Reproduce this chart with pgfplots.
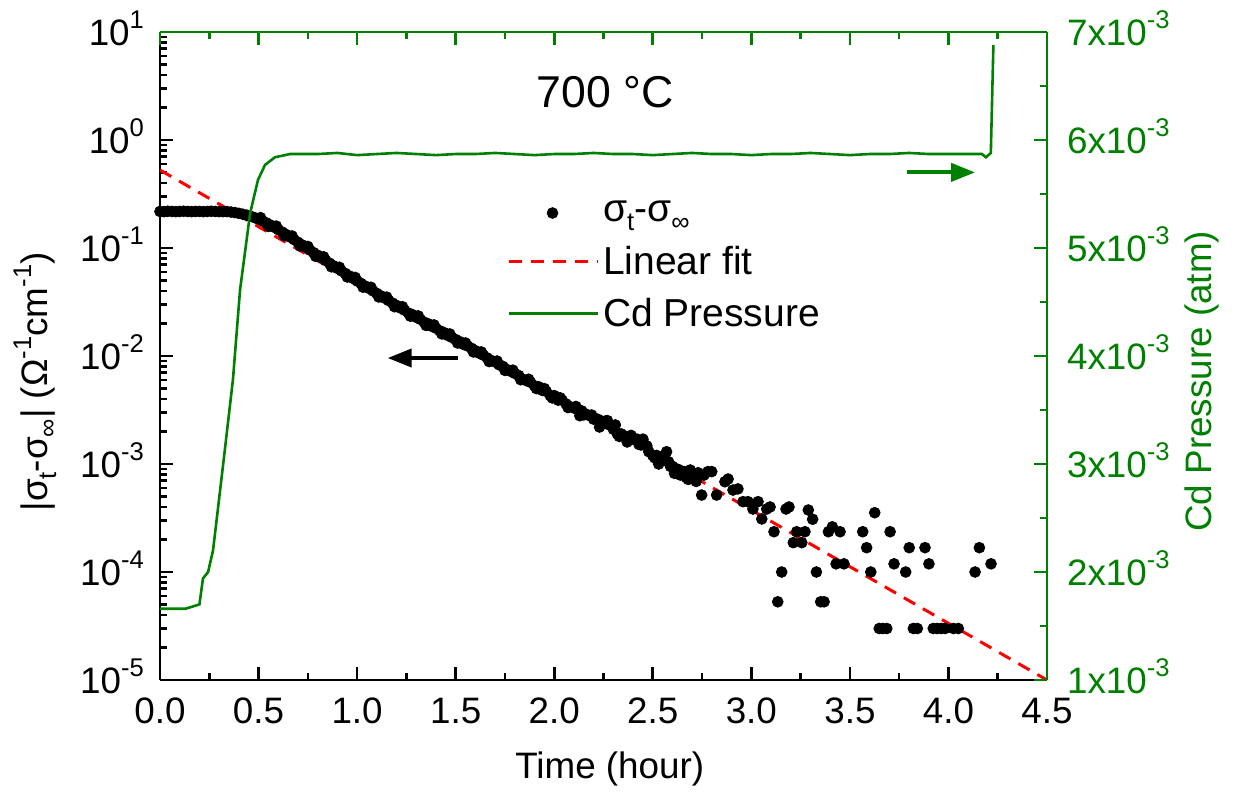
\documentclass[border=0pt]{standalone}
\usepackage{fontspec}
\setmainfont{Liberation Sans}
\usepackage{pgfplots}
\pgfplotsset{compat=1.18}
\usepackage{pgfplotstable}
\usetikzlibrary{arrows.meta}
\definecolor{cdgreen}{RGB}{0,128,0}
\newcommand\tfs{\fontsize{18.4}{22}\selectfont}
\newcommand\sps[1]{\raisebox{8.2pt}{\fontsize{12.8}{13}\selectfont #1}}
\newcommand\sbs[1]{\raisebox{-4.2pt}{\fontsize{12.8}{13}\selectfont #1}}
\pgfplotsset{
  linelegend/.style={legend image code/.code={\draw[##1] plot coordinates {(0pt,0pt) (44.5pt,0pt)};}},
  dotlegend/.style={legend image code/.code={\draw[##1] plot coordinates {(22pt,0pt)};}},
}

\pgfplotstableread{
t v
0.00 0.218
0.02 0.217
0.04 0.219
0.06 0.218
0.08 0.217
0.10 0.218
0.12 0.219
0.14 0.218
0.16 0.217
0.18 0.218
0.20 0.218
0.22 0.217
0.24 0.218
0.26 0.219
0.28 0.218
0.30 0.217
0.32 0.217
0.34 0.2173
0.36 0.2153
0.38 0.2128
0.40 0.2094
0.42 0.2056
0.44 0.2014
0.46 0.1968
0.48 0.1911
0.50 0.1852
0.52 0.1781
0.54 0.1708
0.56 0.1632
0.58 0.1555
0.60 0.1482
0.62 0.1405
0.64 0.1333
0.66 0.1264
0.68 0.1196
0.70 0.1131
0.72 0.1071
0.74 0.1013
0.76 0.0957
0.78 0.0905
0.80 0.0857
0.82 0.0810
0.84 0.0767
0.86 0.0724
0.88 0.0685
0.90 0.0648
0.92 0.0614
0.94 0.0582
0.96 0.0552
0.98 0.0522
1.00 0.0495
1.02 0.0470
1.04 0.0445
1.06 0.0423
1.08 0.0401
1.10 0.0380
1.12 0.0361
1.14 0.0343
1.16 0.0326
1.18 0.0309
1.20 0.0294
1.22 0.0278
1.24 0.0266
1.26 0.0250
1.28 0.0242
1.30 0.0228
1.32 0.0219
1.34 0.0206
1.36 0.0199
1.38 0.0188
1.40 0.0181
1.42 0.0171
1.44 0.0165
1.46 0.0155
1.48 0.0149
1.50 0.0142
1.52 0.0136
1.54 0.0128
1.56 0.0124
1.58 0.0118
1.60 0.0112
1.62 0.0106
1.64 0.0102
1.66 0.0096
1.68 0.0091
1.70 0.0088
1.72 0.0083
1.74 0.0080
1.76 0.0075
1.78 0.0072
1.80 0.0069
1.82 0.0066
1.84 0.0061
1.86 0.0059
1.88 0.0057
1.90 0.0053
1.92 0.0052
1.94 0.0048
1.96 0.0047
1.98 0.0043
2.00 0.0043
2.02 0.0039
2.04 0.0039
2.06 0.0036
2.08 0.0034
2.10 0.0033
2.12 0.0032
2.14 0.0031
2.16 0.0029
2.18 0.0028
2.20 0.0026
2.22 0.0026
2.24 0.0025
2.26 0.0025
2.28 0.0023
2.30 0.0021
2.32 0.0019
2.34 0.0019
2.36 0.0018
2.38 0.0018
2.40 0.0017
2.42 0.0017
2.44 0.0015
2.46 0.0015
2.48 0.0013
2.50 0.0012
2.52 0.0012
2.54 0.0011
2.56 0.0011
2.58 0.00105
2.60 0.00095
2.62 0.00090
2.64 0.00079
2.66 0.00085
2.68 0.00072
2.70 0.00079
2.72 0.00069
0.51 0.191
0.55 0.1587
0.59 0.1594
0.63 0.1301
0.67 0.1292
0.71 0.1046
0.75 0.1034
0.79 0.0837
0.83 0.0828
0.87 0.0669
0.91 0.0663
0.95 0.0539
0.99 0.0534
1.03 0.0434
1.07 0.0433
1.11 0.0352
1.15 0.0351
1.19 0.0286
1.23 0.0286
1.27 0.0234
1.31 0.0235
1.35 0.0192
1.39 0.0194
1.43 0.0160
1.47 0.0160
1.51 0.0132
1.55 0.0132
1.59 0.0109
1.63 0.0109
1.67 0.00888
1.71 0.00898
1.75 0.00736
1.79 0.0074
1.83 0.00603
1.87 0.00609
1.91 0.00499
1.95 0.00499
1.99 0.00409
2.03 0.0041
2.07 0.00333
2.11 0.00341
2.15 0.00285
2.19 0.00284
2.25 0.00238
2.27 0.00252
2.33 0.0018
2.39 0.00184
2.43 0.00152
2.47 0.00147
2.51 0.00114
2.55 0.00116
2.59 0.00095
2.63 0.00089
2.67 0.00075
2.71 0.00078
2.13 0.0028
2.23 0.0022
2.31 0.0023
2.37 0.0016
2.45 0.0017
2.53 0.0010
2.57 0.0013
2.61 0.00082
2.69 0.00088
2.73 0.00083
2.76 0.00079
2.78 0.00085
2.748 5.16e-4
2.799 8.5e-4
2.824 5.16e-4
2.866 6.85e-4
2.882 7.26e-4
2.907 5.74e-4
2.932 5.88e-4
2.958 4.48e-4
2.983 4.48e-4
3.008 3.83e-4
3.034 4.48e-4
3.053 3.1e-4
3.078 3.83e-4
3.095 4.0e-4
3.115 2.36e-4
3.134 5.3e-5
3.154 1.0e-4
3.176 3.83e-4
3.191 4.0e-4
3.213 1.87e-4
3.230 2.36e-4
3.256 1.87e-4
3.272 2.36e-4
3.289 3.75e-4
3.311 3.08e-4
3.330 1.0e-4
3.352 5.3e-5
3.369 5.3e-5
3.391 2.36e-4
3.411 2.62e-4
3.430 1.19e-4
3.450 2.36e-4
3.470 1.19e-4
3.565 2.36e-4
3.585 1.68e-4
3.606 1.0e-4
3.626 3.54e-4
3.649 3e-5
3.667 3e-5
3.687 3e-5
3.704 2.36e-4
3.724 1.19e-4
3.783 1.0e-4
3.801 1.68e-4
3.822 3e-5
3.842 3e-5
3.881 1.68e-4
3.901 1.19e-4
3.923 3e-5
3.943 3e-5
3.963 3e-5
3.983 3e-5
4.025 3e-5
4.050 3e-5
4.135 1.0e-4
4.157 1.68e-4
4.216 1.19e-4
}\sigmadata

\pgfplotstableread{
t p
0 1.66
0.13 1.66
0.20 1.70
0.218 1.94
0.244 2.00
0.269 2.20
0.32 2.99
0.37 3.78
0.406 4.61
0.457 5.32
0.497 5.63
0.533 5.77
0.583 5.84
0.66 5.87
0.8 5.87
0.9 5.88
1.0 5.86
1.1 5.87
1.2 5.88
1.3 5.87
1.4 5.86
1.5 5.87
1.6 5.87
1.7 5.88
1.8 5.87
1.9 5.86
2.0 5.87
2.1 5.87
2.2 5.88
2.3 5.87
2.4 5.87
2.5 5.86
2.6 5.87
2.7 5.88
2.8 5.87
2.9 5.87
3.0 5.86
3.1 5.87
3.2 5.87
3.3 5.88
3.4 5.87
3.5 5.86
3.6 5.87
3.7 5.87
3.8 5.88
3.9 5.87
4.0 5.87
4.1 5.87
4.17 5.87
4.19 5.84
4.215 5.88
4.228 6.88
}\cddata

\begin{document}
\begin{tikzpicture}
\begin{axis}[name=ax, width=443.5pt, height=324pt, scale only axis,
  xmin=0, xmax=4.5, ymode=log, ymin=1e-5, ymax=10,
  axis x line*=bottom, axis y line*=left,
  axis line style={line width=1.3pt, black},
  every tick/.style={line width=1.3pt, black},
  tick align=inside,
  major tick length=6.5pt, minor tick length=3.5pt,
  xtick={0,0.5,1,1.5,2,2.5,3,3.5,4,4.5},
  xticklabels={0.0,0.5,1.0,1.5,2.0,2.5,3.0,3.5,4.0,4.5},
  minor xtick={0.25,0.75,1.25,1.75,2.25,2.75,3.25,3.75,4.25},
  ytick={1e-5,1e-4,1e-3,1e-2,1e-1,1,10},
  yticklabels={10\sps{-5},10\sps{-4},10\sps{-3},10\sps{-2},10\sps{-1},10\sps{0},10\sps{1}},
  minor ytick={2e-5,3e-5,4e-5,5e-5,6e-5,7e-5,8e-5,9e-5,
    2e-4,3e-4,4e-4,5e-4,6e-4,7e-4,8e-4,9e-4,
    2e-3,3e-3,4e-3,5e-3,6e-3,7e-3,8e-3,9e-3,
    0.02,0.03,0.04,0.05,0.06,0.07,0.08,0.09,
    0.2,0.3,0.4,0.5,0.6,0.7,0.8,0.9,
    2,3,4,5,6,7,8,9},
  xticklabel style={font=\tfs, anchor=base, yshift=-21.5pt},
  yticklabel style={font=\tfs, anchor=base east, yshift=-6.6pt, xshift=-4.5pt},
  xlabel={Time (hour)},
  ylabel={|σ\sbs{t}-σ\sbs{∞}| (Ω\sps{-1}cm\sps{-1})},
  every axis x label/.style={at={(rel axis cs:0.507,0)}, anchor=base, yshift=-49pt, font=\tfs},
  every axis y label/.style={at={(rel axis cs:-0.141,0.46)}, rotate=90, anchor=center, font=\tfs},
  linelegend,
  legend style={draw=none, fill=none, at={(0.384,0.64)}, anchor=west,
    font=\fontsize{19.5}{23}\selectfont, row sep=6.5pt, column sep=0pt},
  legend cell align=left,
]
\addplot[only marks, mark=*, mark size=2.7pt, black, dotlegend]
  table[x=t, y=v] {\sigmadata};
\addlegendentry{σ\sbs{t}-σ\sbs{∞}}
\addplot[red, line width=1.5pt, dash pattern=on 6.5pt off 4.5pt]
  coordinates {(0,0.527) (4.5,1e-5)};
\addlegendentry{Linear fit}
\addlegendimage{cdgreen, line width=1.3pt}
\addlegendentry{Cd Pressure}
\draw[line width=2pt, -{Triangle[length=12pt, width=9pt]}] (axis cs:1.51,0.00958) -- (axis cs:1.155,0.00958);
\node[font=\fontsize{22.3}{26}\selectfont] at (rel axis cs:0.502,0.907) {700 °C};
\end{axis}
\begin{axis}[width=443.5pt, height=324pt, scale only axis,
  xmin=0, xmax=4.5, ymin=1, ymax=7,
  axis x line*=top, axis y line*=right,
  axis line style={line width=1.3pt, cdgreen},
  every tick/.style={line width=1.3pt, cdgreen},
  tick align=inside,
  major tick length=6.5pt, minor tick length=3.5pt,
  xtick={0,0.5,1,1.5,2,2.5,3,3.5,4,4.5}, xticklabels={},
  minor xtick={0.25,0.75,1.25,1.75,2.25,2.75,3.25,3.75,4.25},
  ytick={1,2,3,4,5,6,7},
  yticklabels={1x10\sps{-3},2x10\sps{-3},3x10\sps{-3},4x10\sps{-3},5x10\sps{-3},6x10\sps{-3},7x10\sps{-3}},
  minor ytick={1.5,2.5,3.5,4.5,5.5,6.5},
  yticklabel style={font=\tfs, text=cdgreen, anchor=base west, yshift=-6.6pt, xshift=6.5pt},
  ylabel={Cd Pressure (atm)},
  every axis y label/.style={at={(rel axis cs:1.175,0.461)}, rotate=90, anchor=center, font=\tfs, text=cdgreen},
]
\addplot[cdgreen, line width=1.3pt, mark=none] table[x=t, y=p] {\cddata};
\draw[cdgreen, line width=2pt, -{Triangle[length=12pt, width=9pt]}] (axis cs:3.788,5.70) -- (axis cs:4.135,5.70);
\end{axis}
\pgfresetboundingbox
\path[use as bounding box] ([xshift=-80pt,yshift=-60.5pt]ax.south west) rectangle ([xshift=93.5pt,yshift=16pt]ax.north east);
\end{tikzpicture}
\end{document}
